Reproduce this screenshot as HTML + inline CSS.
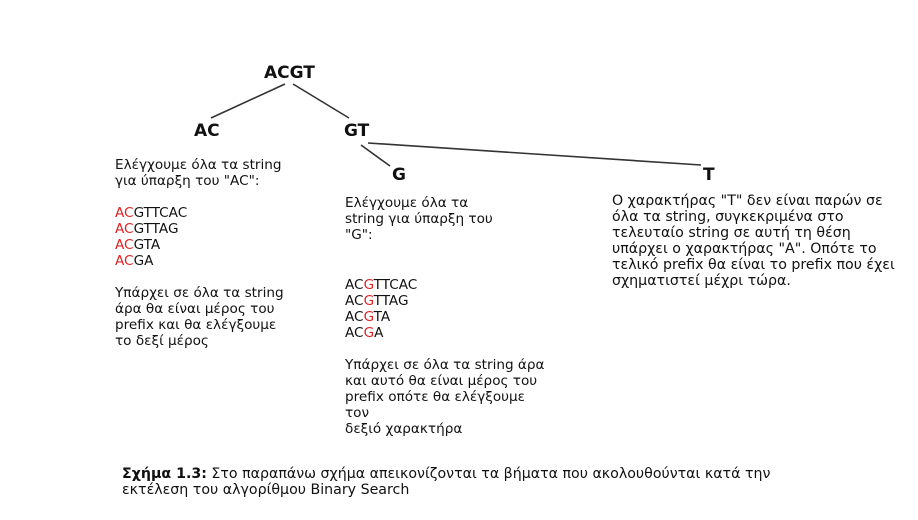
<!DOCTYPE html>
<html><head><meta charset="utf-8"><style>
body{margin:0;width:918px;height:520px;background:#fff;position:relative;overflow:hidden;font-family:"DejaVu Sans","Liberation Sans",sans-serif;color:#111}
.n{position:absolute;font-size:17px;font-weight:bold;line-height:20px}
.t{position:absolute;font-size:13.6px;line-height:16px;white-space:pre}
.r{color:#e02020}
</style></head><body>
<svg width="918" height="520" style="position:absolute;left:0;top:0">
<g stroke="#333" stroke-width="1.6" fill="none">
<line x1="285" y1="84" x2="211" y2="118"/>
<line x1="293" y1="84" x2="349" y2="118"/>
<line x1="361" y1="145" x2="390" y2="166"/>
<line x1="368" y1="143" x2="701" y2="165"/>
</g></svg>
<div class="n" style="left:264px;top:63px">ACGT</div>
<div class="n" style="left:194px;top:121px">AC</div>
<div class="n" style="left:344px;top:121px">GT</div>
<div class="n" style="left:392px;top:165px">G</div>
<div class="n" style="left:703px;top:165px">T</div>
<div class="t" style="left:115px;top:157px">Ελέγχουμε όλα τα string
για ύπαρξη του "AC":

<span class="r">AC</span>GTTCAC
<span class="r">AC</span>GTTAG
<span class="r">AC</span>GTA
<span class="r">AC</span>GA

Υπάρχει σε όλα τα string
άρα θα είναι μέρος του
prefix και θα ελέγξουμε
το δεξί μέρος</div>
<div class="t" style="left:345px;top:195px">Ελέγχουμε όλα τα
string για ύπαρξη του
"G":</div>
<div class="t" style="left:345px;top:277px">AC<span class="r">G</span>TTCAC
AC<span class="r">G</span>TTAG
AC<span class="r">G</span>TA
AC<span class="r">G</span>A

Υπάρχει σε όλα τα string άρα
και αυτό θα είναι μέρος του
prefix οπότε θα ελέγξουμε
τον
δεξιό χαρακτήρα</div>
<div class="t" style="left:612px;top:193px;font-size:14.2px">Ο χαρακτήρας "T" δεν είναι παρών σε
όλα τα string, συγκεκριμένα στο
τελευταίο string σε αυτή τη θέση
υπάρχει ο χαρακτήρας "A". Οπότε το
τελικό prefix θα είναι το prefix που έχει
σχηματιστεί μέχρι τώρα.</div>
<div class="t" style="left:122px;top:466px;font-size:14.2px;line-height:16px"><b>Σχήμα 1.3:</b> Στο παραπάνω σχήμα απεικονίζονται τα βήματα που ακολουθούνται κατά την
εκτέλεση του αλγορίθμου Binary Search</div>
</body></html>
